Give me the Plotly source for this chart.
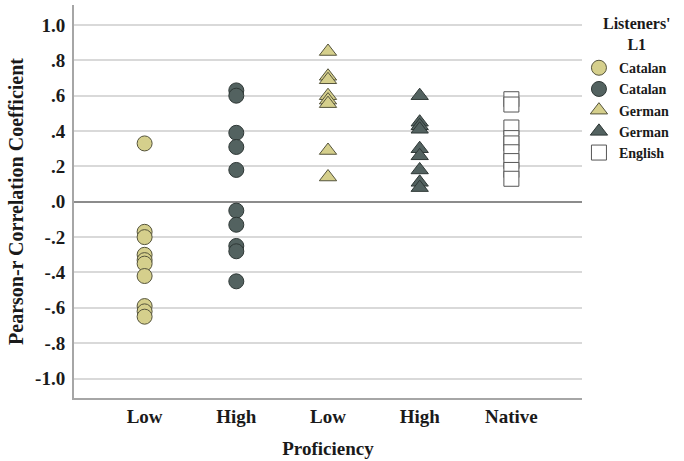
import plotly.graph_objects as go

# ---- data ----
proficiency_labels = ["Low", "High", "Low", "High", "Native"]
y_tick_values = [1.0, 0.8, 0.6, 0.4, 0.2, 0.0, -0.2, -0.4, -0.6, -0.8, -1.0]
y_tick_labels = ["1.0", ".8", ".6", ".4", ".2", ".0", "-.2", "-.4", "-.6", "-.8", "-1.0"]

legend_title = "Listeners'<br>L1"
series_names = ["Catalan", "Catalan", "German", "German", "English"]
series_group = [0, 1, 2, 3, 4]  # index into proficiency_labels

catalan_low = [0.33, -0.17, -0.20, -0.30, -0.33, -0.35, -0.42, -0.59, -0.62, -0.65]
catalan_high = [0.63, 0.60, 0.39, 0.31, 0.18, -0.05, -0.13, -0.25, -0.28, -0.45]
german_low = [0.85, 0.71, 0.69, 0.60, 0.575, 0.555, 0.29, 0.14]
german_high = [0.60, 0.45, 0.43, 0.41, 0.30, 0.26, 0.18, 0.11, 0.08]
english_native = [0.58, 0.55, 0.42, 0.36, 0.33, 0.28, 0.23, 0.18, 0.13]

series_values = [catalan_low, catalan_high, german_low, german_high, english_native]

# ---- styles ----
KHAKI = "#d5cf8c"
DARK = "#536260"
symbols = ["circle", "circle", "triangle-up", "triangle-up", "square"]
fills = [KHAKI, DARK, KHAKI, DARK, "white"]
outlines = ["#55543c", "#2f3836", "#55543c", "#2f3836", "#555555"]
sizes = [15, 15, 15, 15, 15]

FONT = "Liberation Serif"
TXT = "#1a1a1a"

fig = go.Figure()
for name, grp, vals, sym, fc, lc, sz in zip(series_names, series_group, series_values,
                                          symbols, fills, outlines, sizes):
    fig.add_trace(go.Scatter(
        x=[grp] * len(vals),
        y=vals,
        mode="markers",
        name=name,
        marker=dict(symbol=sym, size=sz, color=fc, line=dict(color=lc, width=1)),
        hoverinfo="y",
    ))

fig.add_annotation(
    text=legend_title, xref="paper", yref="paper", x=1.108, y=0.98,
    xanchor="center", yanchor="top", align="center", showarrow=False,
    font=dict(family=FONT, size=16, color=TXT, weight="bold"),
)

fig.update_layout(
    width=684,
    height=461,
    margin=dict(l=74, r=102, t=5, b=63, autoexpand=False),
    paper_bgcolor="white",
    plot_bgcolor="white",
    font=dict(family=FONT, size=19, color=TXT, weight="bold"),
    showlegend=True,
    legend=dict(
        x=0.994, xanchor="left",
        y=0.88, yanchor="top",
        itemwidth=30,
        font=dict(family=FONT, size=14, color=TXT, weight="bold"),
        bgcolor="rgba(0,0,0,0)",
        tracegroupgap=0,
    ),
    xaxis=dict(
        range=[-0.77, 4.77],
        tickmode="array",
        tickvals=list(range(len(proficiency_labels))),
        ticktext=proficiency_labels,
        showgrid=False,
        zeroline=False,
        showline=True,
        linecolor="#a6a6a6",
        linewidth=2,
        ticks="",
        automargin=False,
        ticklabelstandoff=0,
        title=dict(text="Proficiency", standoff=16,
                   font=dict(family=FONT, size=19, weight="bold")),
        tickfont=dict(family=FONT, size=19, weight="bold"),
    ),
    yaxis=dict(
        range=[-1.11, 1.113],
        tickmode="array",
        tickvals=y_tick_values,
        ticktext=y_tick_labels,
        showgrid=True,
        gridcolor="#d9d9d9",
        gridwidth=1.5,
        zeroline=True,
        zerolinecolor="#8c8c8c",
        zerolinewidth=2,
        showline=True,
        linecolor="#a6a6a6",
        linewidth=2,
        ticks="",
        automargin=False,
        ticklabelstandoff=3,
        title=dict(text="Pearson-r Correlation Coefficient", standoff=6,
                   font=dict(family=FONT, size=20, weight="bold")),
        tickfont=dict(family=FONT, size=19, weight="bold"),
    ),
)

fig.write_html("out.html", config={"displayModeBar": False},
               post_script="document.body.style.margin='0';")
